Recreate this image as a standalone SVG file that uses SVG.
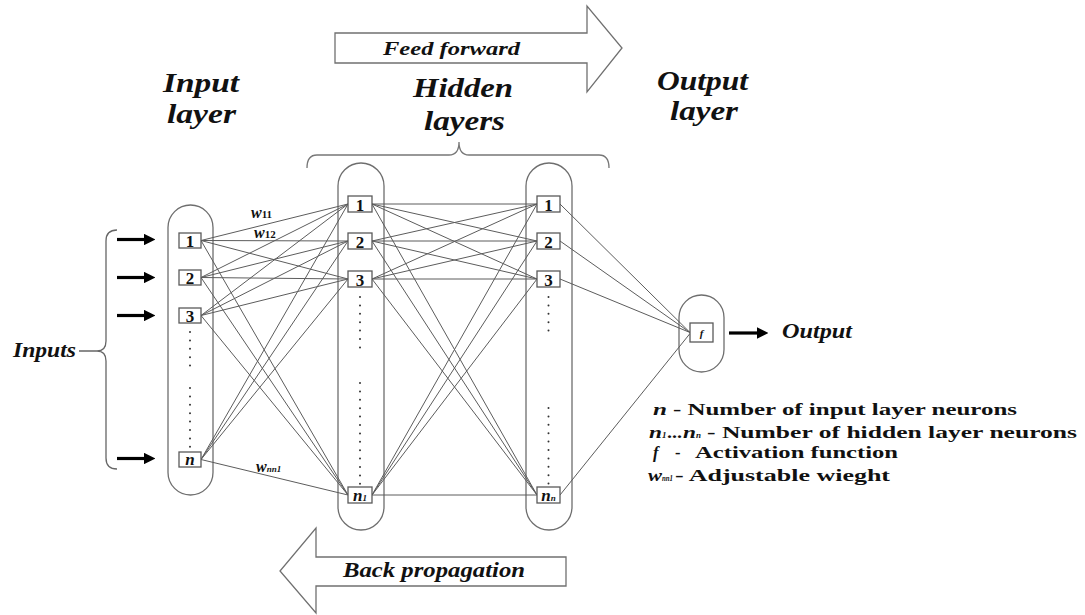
<svg xmlns="http://www.w3.org/2000/svg" width="1085" height="615" viewBox="0 0 1085 615">
<defs>
<style>
.pill{fill:none;stroke:#6e6e6e;stroke-width:1.3}
.box{fill:#fff;stroke:#5a5a5a;stroke-width:1.3}
.conn line{stroke:#5c5c5c;stroke-width:1}
.dots{stroke:#333;stroke-width:2;stroke-linecap:round;stroke-dasharray:0 8.4}
.t{font-family:"Liberation Serif","Times New Roman",serif;font-weight:bold;fill:#111}
.it{font-style:italic}
.big{font-size:28px}
.lg{font-size:16.5px}
.lbl{font-size:17px;text-anchor:middle}
.bigarrow{fill:#fff;stroke:#707070;stroke-width:1.3}
.inarr{stroke:#000;stroke-width:3.2}
</style>
<marker id="ah" viewBox="0 0 10 10" refX="1" refY="5" markerWidth="3.6" markerHeight="3.6" orient="auto" markerUnits="strokeWidth">
<path d="M0,0 L10,5 L0,10 z" fill="#000"/>
</marker>
</defs>
<rect width="1085" height="615" fill="#fff"/>

<!-- big arrows -->
<g id="feed-forward">
<polygon class="bigarrow" points="335,33 587,33 587,6 622,48 587,92 587,63 335,63"/>
<text class="t it" x="383" y="55" font-size="18" textLength="137" lengthAdjust="spacingAndGlyphs">Feed forward</text>
</g>
<g id="back-propagation">
<polygon class="bigarrow" points="566,557 316,557 316,528 280,571 316,613 316,586 566,586"/>
<text class="t it" x="343" y="577" font-size="20" textLength="182" lengthAdjust="spacingAndGlyphs">Back propagation</text>
</g>

<!-- titles -->
<g id="titles">
<text class="t it big" x="163" y="92" textLength="76" lengthAdjust="spacingAndGlyphs">Input</text>
<text class="t it big" x="167" y="123" textLength="69" lengthAdjust="spacingAndGlyphs">layer</text>
<text class="t it big" x="413" y="97" textLength="100" lengthAdjust="spacingAndGlyphs">Hidden</text>
<text class="t it big" x="424" y="130" textLength="81" lengthAdjust="spacingAndGlyphs">layers</text>
<text class="t it big" x="657" y="90" textLength="91" lengthAdjust="spacingAndGlyphs">Output</text>
<text class="t it big" x="670" y="120" textLength="68" lengthAdjust="spacingAndGlyphs">layer</text>
<path d="M307,168 Q307,155 317,155 L449,155 Q459,155 459,142 Q459,155 469,155 L599,155 Q609,155 609,168" fill="none" stroke="#777" stroke-width="1.3"/>
</g>

<!-- inputs brace -->
<g id="inputs">
<text class="t it" x="13" y="357" font-size="20" textLength="63" lengthAdjust="spacingAndGlyphs">Inputs</text>
<path d="M117,230 Q106,230 106,241 L106,341 Q106,351 97,351 L79,351 M97,351 Q106,351 106,361 L106,458 Q106,469 117,469" fill="none" stroke="#666" stroke-width="1.3"/>
<line class="inarr" x1="117" y1="239.5" x2="145" y2="239.5" marker-end="url(#ah)"/>
<line class="inarr" x1="117" y1="277.5" x2="145" y2="277.5" marker-end="url(#ah)"/>
<line class="inarr" x1="117" y1="315.5" x2="145" y2="315.5" marker-end="url(#ah)"/>
<line class="inarr" x1="117" y1="458.5" x2="145" y2="458.5" marker-end="url(#ah)"/>
</g>

<!-- layer pills -->
<g id="input-layer">
<rect class="pill" x="168" y="205" width="45" height="290" rx="22.5"/>
<line class="dots" x1="190" y1="332" x2="190" y2="368"/>
<line class="dots" x1="190" y1="388" x2="190" y2="448"/>
</g>
<g id="hidden-layer-1">
<rect class="pill" x="338" y="163" width="46" height="367" rx="23"/>
<line class="dots" x1="360" y1="297" x2="360" y2="348"/>
<line class="dots" x1="360" y1="383" x2="360" y2="484"/>
</g>
<g id="hidden-layer-2">
<rect class="pill" x="526" y="163" width="46" height="367" rx="23"/>
<line class="dots" x1="548.5" y1="297" x2="548.5" y2="332"/>
<line class="dots" x1="548.5" y1="408" x2="548.5" y2="484"/>
</g>
<g id="output-layer">
<rect class="pill" x="679" y="295" width="45" height="77" rx="22.5"/>
</g>

<!-- connectors -->
<g id="connectors" class="conn">
<line x1="201" y1="240.5" x2="348" y2="204"/>
<line x1="201" y1="240.5" x2="348" y2="241"/>
<line x1="201" y1="240.5" x2="348" y2="279"/>
<line x1="201" y1="240.5" x2="348" y2="495"/>
<line x1="201" y1="277.5" x2="348" y2="204"/>
<line x1="201" y1="277.5" x2="348" y2="241"/>
<line x1="201" y1="277.5" x2="348" y2="279"/>
<line x1="201" y1="277.5" x2="348" y2="495"/>
<line x1="201" y1="315.5" x2="348" y2="204"/>
<line x1="201" y1="315.5" x2="348" y2="241"/>
<line x1="201" y1="315.5" x2="348" y2="279"/>
<line x1="201" y1="315.5" x2="348" y2="495"/>
<line x1="201" y1="459.5" x2="348" y2="204"/>
<line x1="201" y1="459.5" x2="348" y2="241"/>
<line x1="201" y1="459.5" x2="348" y2="279"/>
<line x1="201" y1="459.5" x2="348" y2="495"/>

<line x1="372" y1="204" x2="537" y2="204"/>
<line x1="372" y1="204" x2="537" y2="241"/>
<line x1="372" y1="204" x2="537" y2="279"/>
<line x1="372" y1="204" x2="537" y2="495"/>
<line x1="372" y1="241" x2="537" y2="204"/>
<line x1="372" y1="241" x2="537" y2="241"/>
<line x1="372" y1="241" x2="537" y2="279"/>
<line x1="372" y1="241" x2="537" y2="495"/>
<line x1="372" y1="279" x2="537" y2="204"/>
<line x1="372" y1="279" x2="537" y2="241"/>
<line x1="372" y1="279" x2="537" y2="279"/>
<line x1="372" y1="279" x2="537" y2="495"/>
<line x1="372" y1="495" x2="537" y2="204"/>
<line x1="372" y1="495" x2="537" y2="241"/>
<line x1="372" y1="495" x2="537" y2="279"/>
<line x1="372" y1="495" x2="537" y2="495"/>

<line x1="560" y1="204" x2="690" y2="332.5"/>
<line x1="560" y1="241" x2="690" y2="332.5"/>
<line x1="560" y1="279" x2="690" y2="332.5"/>
<line x1="560" y1="495" x2="690" y2="333.5"/>
</g>

<!-- weight labels -->
<g id="weights">
<text class="t" x="251" y="218" font-size="16"><tspan class="it">w</tspan><tspan font-size="11">11</tspan></text>
<text class="t" x="254" y="238" font-size="16"><tspan class="it">w</tspan><tspan font-size="11">12</tspan></text>
<text class="t" x="256" y="472" font-size="16"><tspan class="it">w</tspan><tspan class="it" font-size="9">nn1</tspan></text>
</g>

<!-- input nodes -->
<g id="input-1"><rect class="box" x="179" y="233" width="22" height="15"/><text class="t lbl" x="190" y="247">1</text></g>
<g id="input-2"><rect class="box" x="179" y="270" width="22" height="15"/><text class="t lbl" x="190" y="284">2</text></g>
<g id="input-3"><rect class="box" x="179" y="308" width="22" height="15"/><text class="t lbl" x="190" y="322">3</text></g>
<g id="input-n"><rect class="box" x="179" y="452" width="22" height="15"/><text class="t lbl it" x="190" y="465">n</text></g>

<!-- hidden layer 1 nodes -->
<g id="hidden1-1"><rect class="box" x="348" y="196" width="24" height="16"/><text class="t lbl" x="360" y="211">1</text></g>
<g id="hidden1-2"><rect class="box" x="348" y="233" width="24" height="16"/><text class="t lbl" x="360" y="248">2</text></g>
<g id="hidden1-3"><rect class="box" x="348" y="271" width="24" height="16"/><text class="t lbl" x="360" y="286">3</text></g>
<g id="hidden1-n1"><rect class="box" x="348" y="487" width="24" height="16"/><text class="t lbl it" x="360" y="501"><tspan>n</tspan><tspan font-size="9">1</tspan></text></g>

<!-- hidden layer 2 nodes -->
<g id="hidden2-1"><rect class="box" x="537" y="196" width="23" height="16"/><text class="t lbl" x="548.5" y="211">1</text></g>
<g id="hidden2-2"><rect class="box" x="537" y="233" width="23" height="16"/><text class="t lbl" x="548.5" y="248">2</text></g>
<g id="hidden2-3"><rect class="box" x="537" y="271" width="23" height="16"/><text class="t lbl" x="548.5" y="286">3</text></g>
<g id="hidden2-nn"><rect class="box" x="537" y="487" width="23" height="16"/><text class="t lbl it" x="548.5" y="501"><tspan>n</tspan><tspan font-size="9">n</tspan></text></g>

<!-- output node -->
<g id="output-f">
<rect class="box" x="690" y="323" width="23" height="19"/>
<text class="t it" x="701.5" y="337" font-size="11" text-anchor="middle">f</text>
<line class="inarr" x1="729" y1="333" x2="758" y2="333" marker-end="url(#ah)"/>
<text class="t it" x="782" y="338" font-size="20" textLength="70" lengthAdjust="spacingAndGlyphs">Output</text>
</g>

<!-- legend -->
<g id="legend">
<text class="t lg" y="415"><tspan class="it" x="653" textLength="14" lengthAdjust="spacingAndGlyphs">n</tspan><tspan x="673" textLength="344" lengthAdjust="spacingAndGlyphs">- Number of input layer neurons</tspan></text>
<text class="t lg" y="438"><tspan class="it" x="649" textLength="13" lengthAdjust="spacingAndGlyphs">n</tspan><tspan class="it" font-size="9" x="662">1</tspan><tspan x="667" textLength="15" lengthAdjust="spacingAndGlyphs">...</tspan><tspan class="it" x="683" textLength="13" lengthAdjust="spacingAndGlyphs">n</tspan><tspan class="it" font-size="9" x="696">n</tspan><tspan x="707" textLength="370" lengthAdjust="spacingAndGlyphs">- Number of hidden layer neurons</tspan></text>
<text class="t lg" y="458"><tspan class="it" x="653">f</tspan><tspan x="675">-</tspan><tspan x="695" textLength="203" lengthAdjust="spacingAndGlyphs">Activation function</tspan></text>
<text class="t lg" y="481"><tspan class="it" x="648" textLength="14" lengthAdjust="spacingAndGlyphs">w</tspan><tspan class="it" font-size="8" x="662" textLength="11" lengthAdjust="spacingAndGlyphs">nn1</tspan><tspan x="675" textLength="215" lengthAdjust="spacingAndGlyphs">- Adjustable wieght</tspan></text>
</g>
</svg>
